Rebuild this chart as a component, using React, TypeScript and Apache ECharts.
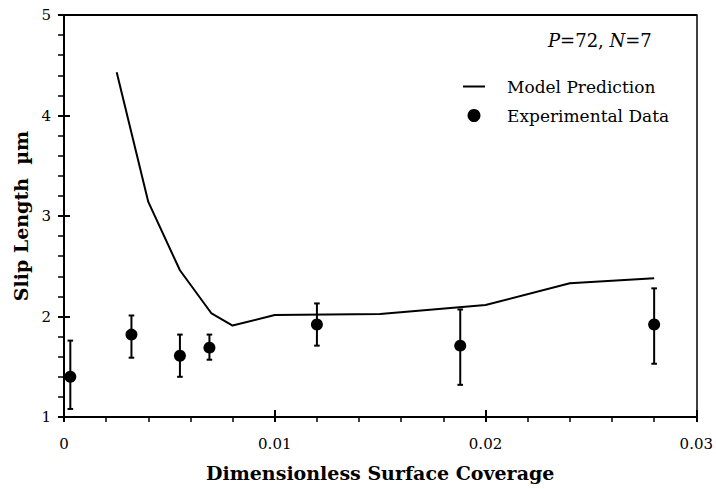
import React, { useEffect, useRef } from "react";
import * as echarts from "echarts";

const modelX = [0.0025, 0.004, 0.0055, 0.007, 0.008, 0.01, 0.015, 0.02, 0.024, 0.028];
const modelY = [4.43, 3.14, 2.46, 2.03, 1.91, 2.015, 2.025, 2.115, 2.33, 2.38];

const expX = [0.0003, 0.0032, 0.0055, 0.0069, 0.012, 0.0188, 0.028];
const expY = [1.4, 1.82, 1.61, 1.69, 1.92, 1.71, 1.92];
const expLow = [1.08, 1.59, 1.4, 1.57, 1.71, 1.32, 1.53];
const expHigh = [1.76, 2.01, 1.82, 1.82, 2.13, 2.07, 2.28];

const xTicks = [0, 0.01, 0.02, 0.03];
const yTicks = [1, 2, 3, 4, 5];

const FONT = "DejaVu Serif";
const INK = "#000";

export default function App() {
  const ref = useRef<HTMLDivElement>(null);
  useEffect(() => {
    if (!ref.current) return;
    const chart = echarts.init(ref.current, null, { renderer: "svg" });
    const xMin = xTicks[0];
    const xMax = xTicks[xTicks.length - 1];
    const yMin = yTicks[0];
    const yMax = yTicks[yTicks.length - 1];
    const baseX = {
      type: "value" as const,
      min: xMin,
      max: xMax,
      interval: 0.01,
      splitLine: { show: false },
    };
    const baseY = {
      type: "value" as const,
      min: yMin,
      max: yMax,
      interval: 1,
      splitLine: { show: false },
    };
    chart.setOption({
      animation: false,
      backgroundColor: "#fff",
      grid: { left: 64, right: 16, top: 15, bottom: 72, containLabel: false },
      legend: {
        orient: "vertical",
        left: 463,
        top: 78,
        padding: 0,
        itemWidth: 22,
        itemHeight: 13,
        itemGap: 12,
        symbolKeepAspect: true,
        textStyle: {
          fontFamily: FONT,
          fontSize: 17,
          lineHeight: 17,
          color: INK,
          padding: [0, 0, 0, 17],
        },
        data: [
          { name: "Model Prediction", icon: "path://M0,0h22v2h-22z" },
          { name: "Experimental Data", icon: "circle" },
        ],
      },
      xAxis: [
        {
          ...baseX,
          position: "bottom",
          axisLine: { show: true, onZero: false, lineStyle: { color: INK, width: 2 } },
          axisTick: { show: true, inside: false, length: 5, lineStyle: { color: INK, width: 2 } },
          minorTick: { show: true, splitNumber: 5, length: 5, lineStyle: { color: INK, width: 1.5 } },
          axisLabel: {
            margin: 19,
            fontFamily: FONT,
            fontSize: 15,
            color: INK,
            formatter: (v: number) => (v === 0 ? "0" : v.toFixed(2)),
          },
          name: "Dimensionless Surface Coverage",
          nameLocation: "middle",
          nameGap: 46,
          nameTextStyle: { fontFamily: FONT, fontSize: 19, fontWeight: "bold", color: INK },
        },
        {
          ...baseX,
          position: "bottom",
          axisLine: { show: false, onZero: false },
          axisTick: { show: true, inside: true, length: 7, lineStyle: { color: INK, width: 2 } },
          axisLabel: { show: false },
        },
        {
          ...baseX,
          position: "top",
          axisLine: { show: true, onZero: false, lineStyle: { color: INK, width: 2 } },
          axisTick: { show: false },
          axisLabel: { show: false },
        },
      ],
      yAxis: [
        {
          ...baseY,
          position: "left",
          axisLine: { show: true, onZero: false, lineStyle: { color: INK, width: 2 } },
          axisTick: { show: true, inside: false, length: 6, lineStyle: { color: INK, width: 2 } },
          minorTick: { show: true, splitNumber: 5, length: 6, lineStyle: { color: INK, width: 1.5 } },
          axisLabel: { margin: 13, fontFamily: FONT, fontSize: 15, color: INK },
          name: "Slip Length  µm",
          nameLocation: "middle",
          nameRotate: 90,
          nameGap: 31,
          nameTextStyle: { fontFamily: FONT, fontSize: 19, fontWeight: "bold", color: INK },
        },
        {
          ...baseY,
          position: "left",
          axisLine: { show: false, onZero: false },
          axisTick: { show: true, inside: true, length: 6, lineStyle: { color: INK, width: 2 } },
          axisLabel: { show: false },
        },
        {
          ...baseY,
          position: "right",
          axisLine: { show: true, onZero: false, lineStyle: { color: INK, width: 1.5 } },
          axisTick: { show: false },
          axisLabel: { show: false },
        },
      ],
      graphic: [
        {
          type: "text",
          left: 548,
          top: 31,
          style: {
            text: "{i|P}=72, {i|N}=7",
            fontFamily: FONT,
            fontSize: 18,
            fill: INK,
            rich: {
              i: { fontFamily: FONT, fontSize: 18, fontStyle: "italic", fill: INK },
            },
          },
        },
      ],
      series: [
        {
          name: "Model Prediction",
          type: "line",
          xAxisIndex: 0,
          yAxisIndex: 0,
          symbol: "none",
          showSymbol: false,
          lineStyle: { color: INK, width: 2 },
          itemStyle: { color: INK },
          data: modelX.map((x, i) => [x, modelY[i]]),
          z: 3,
        },
        {
          name: "Error",
          type: "custom",
          xAxisIndex: 0,
          yAxisIndex: 0,
          encode: { x: 0, y: [1, 2] },
          data: expX.map((x, i) => [x, expLow[i], expHigh[i]]),
          renderItem: (params: any, api: any) => {
            const x = api.value(0);
            const lo = api.coord([x, api.value(1)]);
            const hi = api.coord([x, api.value(2)]);
            const cap = 2.8;
            const st = { stroke: INK, lineWidth: 2 };
            return {
              type: "group",
              children: [
                { type: "line", shape: { x1: lo[0], y1: lo[1], x2: hi[0], y2: hi[1] }, style: st },
                { type: "line", shape: { x1: lo[0] - cap, y1: lo[1], x2: lo[0] + cap, y2: lo[1] }, style: st },
                { type: "line", shape: { x1: hi[0] - cap, y1: hi[1], x2: hi[0] + cap, y2: hi[1] }, style: st },
              ],
            };
          },
          z: 4,
        },
        {
          name: "Experimental Data",
          type: "scatter",
          xAxisIndex: 0,
          yAxisIndex: 0,
          symbol: "circle",
          symbolSize: 12,
          itemStyle: { color: INK, opacity: 1 },
          data: expX.map((x, i) => [x, expY[i]]),
          z: 5,
        },
      ],
    });
    return () => chart.dispose();
  }, []);
  return (
    <div
      ref={ref}
      style={{ position: "fixed", left: 0, top: 0, width: 716, height: 489, background: "#fff" }}
    />
  );
}
